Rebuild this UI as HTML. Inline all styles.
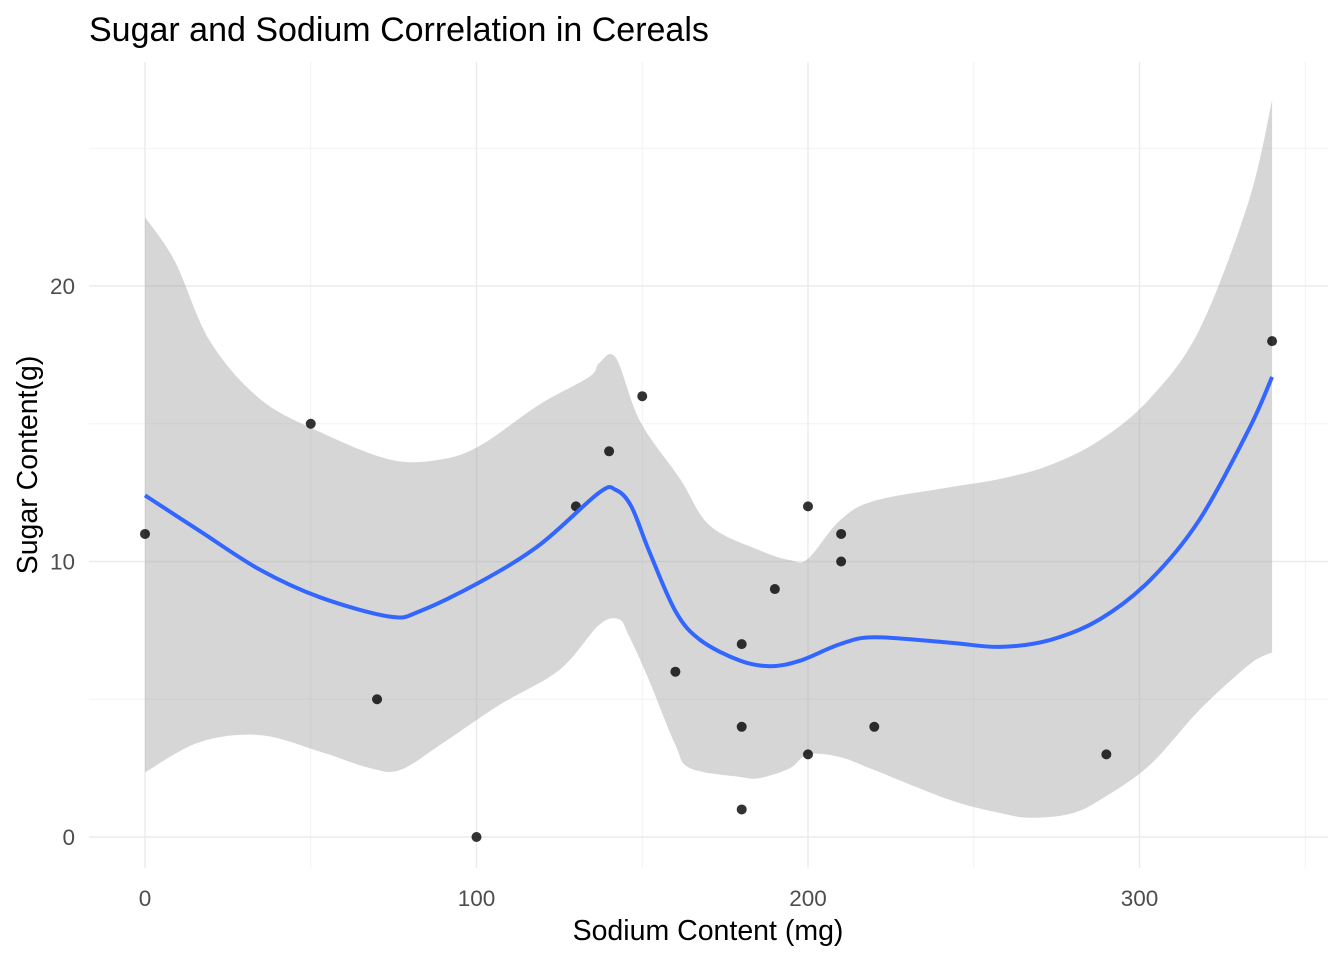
<!DOCTYPE html>
<html><head><meta charset="utf-8"><style>
html,body{margin:0;padding:0;background:#fff;}
svg{display:block;font-family:"Liberation Sans",Arial,sans-serif;}
</style></head><body>
<svg id="chart" width="1344" height="960"></svg>
<script>
const ptX=[0,50,70,100,130,140,150,160,180,180,180,190,200,200,210,210,220,290,340];
const ptY=[11,15,5,0,12,14,16,6,7,4,1,9,12,3,11,10,4,3,18];
const lineX=[0,16.6,34.7,52.8,73.9,83,101,119,137,142,146.7,152,160,167.5,179.5,188.6,197.6,209.7,220,243,258,273,288,303,318,333,340];
const lineY=[12.4,11.1,9.7,8.7,8.0,8.2,9.25,10.6,12.5,12.6,12.0,10.4,8.2,7.15,6.4,6.2,6.4,7.0,7.25,7.05,6.9,7.15,7.9,9.3,11.5,14.8,16.7];
const upX=[0,9,19.6,34.7,52.8,73.9,89,101,119,134,137,142,149.3,161.4,170.4,185.5,194.6,200,209.7,220,243,258,273,288,303,318,333,340];
const upY=[22.5,20.9,18.0,15.9,14.7,13.7,13.7,14.2,15.7,16.7,17.2,17.4,15.1,13.0,11.3,10.4,10.05,10.1,11.5,12.2,12.7,13.0,13.5,14.4,15.9,18.4,23.1,26.75];
const loX=[0,16.6,34.7,52.8,67.9,76.9,89,107,125,137,143,146,152,160,164.4,179.5,185.5,194.6,200,209.7,220,243,258,267,279,288,303,318,333,340];
const loY=[2.35,3.45,3.7,3.1,2.5,2.43,3.34,4.8,6.06,7.7,7.9,7.3,5.7,3.34,2.5,2.18,2.14,2.5,3.0,2.9,2.43,1.34,0.87,0.7,0.84,1.34,2.6,4.6,6.25,6.7];
const xTicks=[0,100,200,300];
const xMinor=[50,150,250,350];
const yTicks=[0,10,20];
const yMinor=[5,15,25];

const NS="http://www.w3.org/2000/svg";
const svg=document.getElementById('chart');
const X=v=>145+v*3.315;
const Y=v=>837-v*27.55;
const L=89,R=1328,T=62,B=868;
function mk(t,a,p){const e=document.createElementNS(NS,t);for(const k in a)e.setAttribute(k,a[k]);(p||svg).appendChild(e);return e;}
function spline(P,start){
  let d=(start?'M':'L')+P[0][0]+','+P[0][1];
  for(let i=0;i<P.length-1;i++){
    const p0=P[Math.max(0,i-1)],p1=P[i],p2=P[i+1],p3=P[Math.min(P.length-1,i+2)];
    const c1=[p1[0]+(p2[0]-p0[0])/6,p1[1]+(p2[1]-p0[1])/6];
    const c2=[p2[0]-(p3[0]-p1[0])/6,p2[1]-(p3[1]-p1[1])/6];
    d+='C'+c1[0]+','+c1[1]+' '+c2[0]+','+c2[1]+' '+p2[0]+','+p2[1];
  }
  return d;
}

const grid=mk('g',{});


yMinor.forEach(v=>mk('line',{x1:L,x2:R,y1:Y(v),y2:Y(v),stroke:'#f2f2f2','stroke-width':1},grid));
xMinor.forEach(v=>mk('line',{x1:X(v),x2:X(v),y1:T,y2:B,stroke:'#f2f2f2','stroke-width':1},grid));
yTicks.forEach(v=>mk('line',{x1:L,x2:R,y1:Y(v),y2:Y(v),stroke:'#ebebeb','stroke-width':1.4},grid));
xTicks.forEach(v=>mk('line',{x1:X(v),x2:X(v),y1:T,y2:B,stroke:'#ebebeb','stroke-width':1.4},grid));

const up=upX.map((x,i)=>[X(x),Y(upY[i])]);
const lo=loX.map((x,i)=>[X(x),Y(loY[i])]).reverse();
const band=mk('path',{d:spline(up,true)+spline(lo,false)+'Z',fill:'#999','fill-opacity':0.4});



const pts=mk('g',{});


ptX.forEach((x,i)=>{const c=mk('circle',{cx:X(x),cy:Y(ptY[i]),r:5,fill:'#000','fill-opacity':0.8},pts);

});

const ln=mk('path',{d:spline(lineX.map((x,i)=>[X(x),Y(lineY[i])]),true),fill:'none',stroke:'#3366FF','stroke-width':4,'stroke-linejoin':'round'});



xTicks.forEach(v=>{const t=mk('text',{x:X(v),y:906,'text-anchor':'middle','font-size':22.5,fill:'#4d4d4d'});t.textContent=v;

});
yTicks.forEach(v=>{const t=mk('text',{x:75,y:Y(v)+8,'text-anchor':'end','font-size':22.5,fill:'#4d4d4d'});t.textContent=v;

});

const xt=mk('text',{x:708,y:940,'text-anchor':'middle','font-size':28.5,fill:'#000'});xt.textContent='Sodium Content (mg)';


const yt=mk('text',{x:0,y:0,'text-anchor':'middle','font-size':28.5,fill:'#000',transform:'translate(37,465) rotate(-90)'});yt.textContent='Sugar Content(g)';


const tt=mk('text',{x:89,y:41,'font-size':34,fill:'#000'});tt.textContent='Sugar and Sodium Correlation in Cereals';


</script>
</body></html>
